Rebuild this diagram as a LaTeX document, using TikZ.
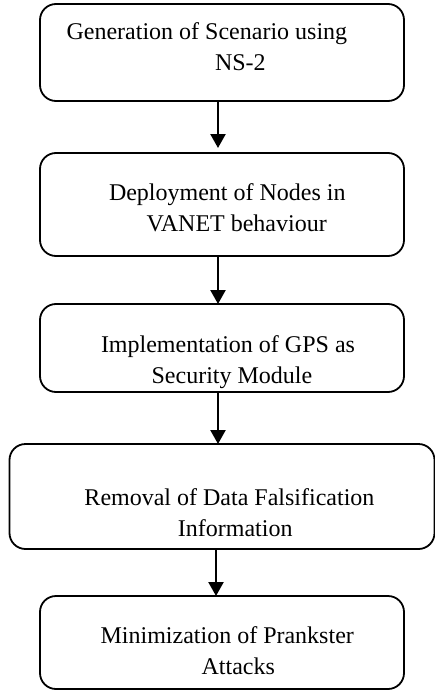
\documentclass[tikz,border=0pt]{standalone}
\usepackage{fontspec}
\setmainfont{Liberation Serif}
\usetikzlibrary{arrows.meta,positioning}

\begin{document}
\begin{tikzpicture}
[node distance=26pt,
stage/.style={draw,line width=0.9pt,rounded corners=8pt,outer sep=0pt,
  align=flush left,inner xsep=0pt,inner ysep=0pt,text width=182pt,
  font=\fontsize{12pt}{15.5pt}\selectfont},
wide/.style={text width=212.5pt},
flow/.style={line width=1.2pt,-{Triangle[width=7.5pt,length=7pt]}}]
%%
\useasboundingbox (0,0) rectangle (217pt,-345pt);
%%%%%%%%%%%%%%%%%%
% Stages
%%%%%%%%%%%%%%%%%%
\node[stage,anchor=north,text height=18pt,text depth=30.5pt] (gen) at (111pt,-2pt)
  {\hspace*{13.3pt}Generation of Scenario using\\\hspace*{87.5pt}NS-2};
\node[stage,below=of gen,text height=23.5pt,text depth=28pt] (deploy)
  {\hspace*{34.5pt}Deployment of Nodes in\\\hspace*{53.3pt}VANET behaviour};
\node[stage,below=24pt of deploy,text height=24pt,text depth=20pt] (gps)
  {\hspace*{30.5pt}Implementation of GPS as\\\hspace*{55.8pt}Security Module};
\node[stage,wide,below=of gps,text height=30.5pt,text depth=22pt] (removal)
  {\hspace*{37.5pt}Removal of Data Falsification\\\hspace*{84.2pt}Information};
\node[stage,below=23.5pt of removal,text height=23.5pt,text depth=23pt] (prank)
  {\hspace*{30.3pt}Minimization of Prankster\\\hspace*{80.8pt}Attacks};
%%
%%%%%%%%%%%%%%%%%%
% Arrows
%%%%%%%%%%%%%%%%%%
\draw[flow,shorten >=2.5pt] ([xshift=-2pt]gen.south) -- ([xshift=-2pt]deploy.north);
\draw[flow] ([xshift=-2pt]deploy.south) -- ([xshift=-2pt]gps.north);
\draw[flow] ([xshift=-2pt]gps.south) -- ([xshift=-2pt]removal.north);
\draw[flow] ([xshift=-3pt]removal.south) -- ([xshift=-3pt]prank.north);
%%
\end{tikzpicture}
\end{document}
